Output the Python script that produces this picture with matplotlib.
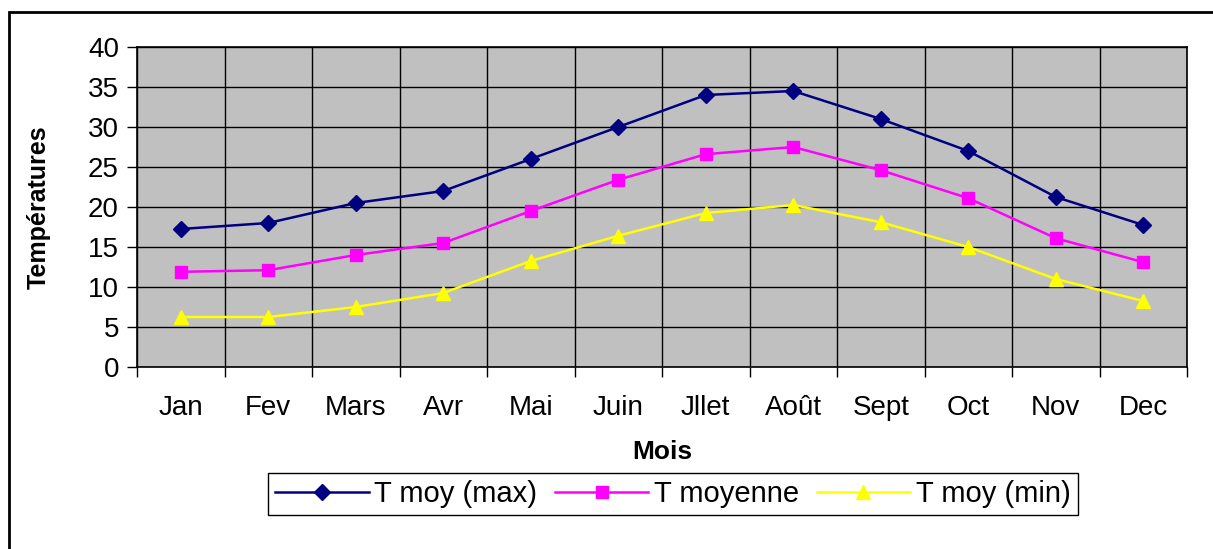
# Températures mensuelles: max, moyenne, min
import matplotlib.pyplot as plt
from matplotlib.patches import Rectangle
import numpy as np

mois = ['Jan', 'Fev', 'Mars', 'Avr', 'Mai', 'Juin', 'Jllet', 'Août', 'Sept', 'Oct', 'Nov', 'Dec']
t_max = [17.25, 18.0, 20.5, 22.0, 26.0, 30.0, 34.0, 34.5, 31.0, 27.0, 21.25, 17.75]
t_moy = [11.9, 12.1, 14.0, 15.5, 19.5, 23.4, 26.6, 27.5, 24.6, 21.1, 16.1, 13.1]
t_min = [6.25, 6.25, 7.5, 9.25, 13.25, 16.4, 19.25, 20.25, 18.1, 15.0, 11.0, 8.25]

plt.rcParams['font.family'] = ['Liberation Sans', 'DejaVu Sans']

fig = plt.figure(figsize=(12.13, 5.49), dpi=100)
ax = fig.add_axes([137/1213, 1 - 367/549, 1050/1213, 320/549])

# outer chart frame (top and left visible, rest cut off)
fig.patches.append(Rectangle((9/1213, -0.05), 1.2, 1 - 12/549 + 0.05,
                             transform=fig.transFigure, fill=False,
                             edgecolor='black', linewidth=2, zorder=0))

x = np.arange(len(mois))
ax.set_facecolor('#C0C0C0')
ax.plot(x, t_max, color='#000080', marker='D', markersize=8, linewidth=1.8,
        label='T moy (max)', zorder=3)
ax.plot(x, t_moy, color='#FF00FF', marker='s', markersize=8.5, linewidth=1.8,
        label='T moyenne', zorder=3)
ax.plot(x, t_min, color='#FFFF00', marker='^', markersize=10, linewidth=1.8,
        label='T moy (min)', zorder=3)

ax.set_xlim(-0.5, len(mois) - 0.5)
ax.set_ylim(0, 40)
ax.set_yticks(np.arange(0, 41, 5))
ax.set_xticks(x)
ax.set_xticklabels(mois)
ax.set_xticks(np.arange(-0.5, len(mois)), minor=True)
ax.tick_params(axis='x', which='major', length=0, pad=20, labelsize=20)
ax.tick_params(axis='x', which='minor', length=7, width=1, direction='out')
ax.tick_params(axis='y', length=7, width=1, direction='out', pad=6, labelsize=20)
ax.grid(True, which='minor', axis='x', color='black', linewidth=1)
ax.grid(True, which='major', axis='y', color='black', linewidth=1)
ax.set_axisbelow(True)
for s in ax.spines.values():
    s.set_color('black')
    s.set_linewidth(1.2)

ax.set_ylabel('Températures', fontsize=18, fontweight='bold', labelpad=27)
ax.set_xlabel('Mois', fontsize=19, fontweight='bold', labelpad=14)

leg = ax.legend(loc='center', bbox_to_anchor=(673/1213, 1 - 494/549),
                bbox_transform=fig.transFigure, ncol=3, fontsize=21,
                frameon=True, fancybox=False, edgecolor='black', framealpha=1,
                handlelength=3.2, handletextpad=0.2, columnspacing=0.6,
                borderpad=0.25, borderaxespad=0)
leg.get_frame().set_linewidth(1)

plt.savefig('out.png', dpi=100)
